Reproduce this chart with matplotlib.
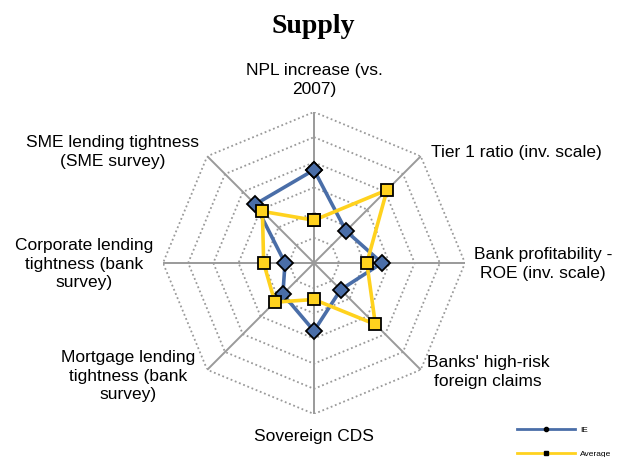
import numpy as np
import matplotlib
matplotlib.use("Agg")
import matplotlib.pyplot as plt
from matplotlib.lines import Line2D

# Axes, clockwise from the top
categories = [
    "NPL increase (vs.\n2007)",
    "Tier 1 ratio (inv. scale)",
    "Bank profitability -\nROE (inv. scale)",
    "Banks' high-risk\nforeign claims",
    "Sovereign CDS",
    "Mortgage lending\ntightness (bank\nsurvey)",
    "Corporate lending\ntightness (bank\nsurvey)",
    "SME lending tightness\n(SME survey)",
]
ie_values = [3.7, 1.8, 2.7, 1.5, 2.7, 1.75, 1.15, 3.3]
avg_values = [1.7, 4.1, 2.1, 3.45, 1.45, 2.2, 2.0, 2.9]
grid_levels = [1, 2, 3, 4, 5, 6]

blue = "#4A6EA8"
yellow = "#FFD21E"
grid_col = "#9A9A9A"

plt.rcParams['font.family'] = ['Liberation Sans', 'DejaVu Sans']

W, H = 617, 457
fig = plt.figure(figsize=(W / 100, H / 100), dpi=100)

# polar axes centred at about (314, 263) px, radius 151 px
cx, cy, rad = 314, 263, 151
ax = fig.add_axes([(cx - rad) / W, (H - cy - rad) / H, 2 * rad / W, 2 * rad / H],
                  projection='polar')
ax.set_theta_zero_location('N')
ax.set_theta_direction(-1)
ax.set_ylim(0, max(grid_levels))
ax.grid(False)
ax.set_xticks([])
ax.set_yticks([])
ax.spines['polar'].set_visible(False)
ax.patch.set_alpha(0)

n = len(categories)
angles = np.arange(n) * 2 * np.pi / n
closed = np.append(angles, angles[0])

# octagon rings
for lev in grid_levels:
    ax.plot(closed, [lev] * (n + 1), color=grid_col, lw=1.3, ls=(0, (1, 1.5)), zorder=1)
# spokes
for a in angles:
    ax.plot([a, a], [0, max(grid_levels)], color=grid_col, lw=1.4, zorder=1)

ax.plot(closed, ie_values + ie_values[:1], color=blue, lw=2.6, marker='D',
        markersize=8.5, markerfacecolor=blue, markeredgecolor='black',
        markeredgewidth=1.3, zorder=3, clip_on=False)
ax.plot(closed, avg_values + avg_values[:1], color=yellow, lw=2.6, marker='s',
        markersize=9, markerfacecolor=yellow, markeredgecolor='black',
        markeredgewidth=1.3, zorder=4, clip_on=False)

# category labels (pixel centres)
label_pos = [(314, 80), (516, 153), (543, 264), (488, 372),
             (314, 437), (128, 376), (84, 264), (113, 152)]
for txt, (px, py) in zip(categories, label_pos):
    fig.text(px / W, 1 - py / H, txt, ha='center', va='center',
             fontsize=12.5, linespacing=1.3, color='black')

fig.text(313 / W, 1 - 33 / H, "Supply", ha='center', va='baseline',
         fontsize=20, fontweight='bold', family='Liberation Serif')

handles = [
    Line2D([], [], color=blue, lw=2, marker='o', markersize=3,
           markerfacecolor='black', markeredgecolor='black'),
    Line2D([], [], color=yellow, lw=2, marker='s', markersize=3,
           markerfacecolor='black', markeredgecolor='black'),
]
fig.legend(handles, ["IE", "Average"], loc='center left',
           bbox_to_anchor=(517 / W, 1 - 442 / H), frameon=False, fontsize=6,
           handlelength=7, handletextpad=0.6, labelspacing=1.9, borderpad=0,
           borderaxespad=0)

fig.savefig("out.png", dpi=100)
